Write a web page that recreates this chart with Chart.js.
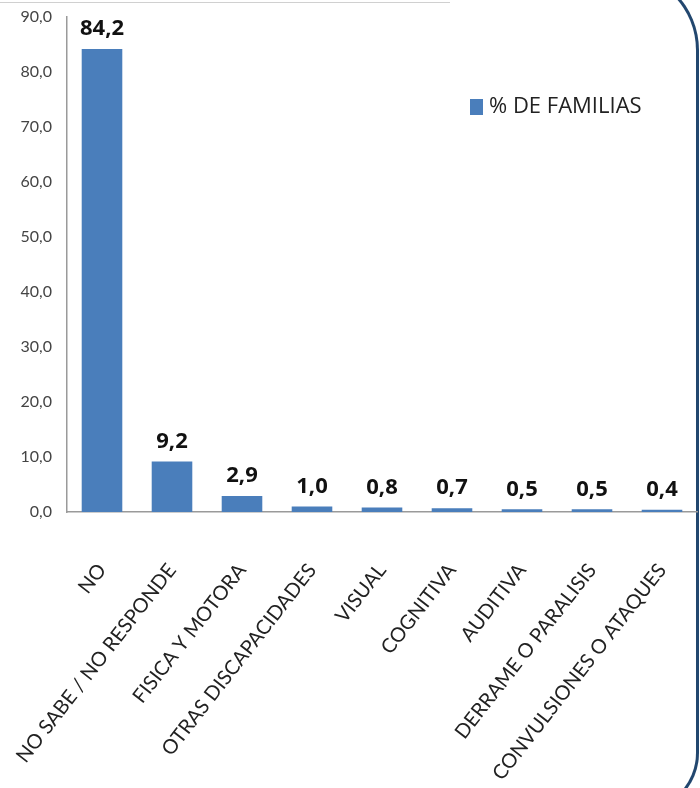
<!DOCTYPE html>
<html>
<head>
<meta charset="utf-8">
<script src="https://cdn.jsdelivr.net/npm/chart.js@4.4.1/dist/chart.umd.min.js"></script>
<style>
  html, body { margin: 0; padding: 0; background: #fff; }
  #wrap { position: relative; width: 700px; height: 788px; overflow: hidden; }
  #topline { position: absolute; left: 0; top: 2px; width: 450px; height: 1px; background: #d0d0d0; }
  #frame { position: absolute; right: 1px; top: -30px; bottom: -25px; width: 120px;
           border-right: 3px solid #22476f; border-top: 3px solid #22476f; border-bottom: 3px solid #22476f;
           border-top-right-radius: 80px; border-bottom-right-radius: 60px; }
  canvas { position: absolute; left: 0; top: 0; }
</style>
</head>
<body>
<div id="wrap">
  <div id="topline"></div>
  <div id="frame"></div>
  <canvas id="myChart" width="700" height="788"></canvas>
</div>
<script>
// categorias y valores (% de familias)
var categories = ['NO', 'NO SABE / NO RESPONDE', 'FISICA Y MOTORA', 'OTRAS DISCAPACIDADES',
  'VISUAL', 'COGNITIVA', 'AUDITIVA', 'DERRAME O PARALISIS', 'CONVULSIONES O ATAQUES'];
var values = [84.2, 9.2, 2.9, 1.0, 0.8, 0.7, 0.5, 0.5, 0.4];
var seriesName = '% DE FAMILIAS';
var yTicks = [0, 10, 20, 30, 40, 50, 60, 70, 80, 90];

function fmt(v) {
  return v.toFixed(1).replace('.', ',');
}

// etiquetas encima de las barras
var valueLabels = {
  id: 'valueLabels',
  afterDatasetsDraw: function(chart) {
    var ctx = chart.ctx;
    var meta = chart.getDatasetMeta(0);
    ctx.save();
    ctx.font = 'bold 22px "Open Sans"';
    ctx.fillStyle = '#111';
    ctx.textAlign = 'center';
    ctx.textBaseline = 'bottom';
    meta.data.forEach(function(bar, i) {
      ctx.fillText(fmt(values[i]), bar.x, bar.y - 9);
    });
    ctx.restore();
  }
};

// leyenda dentro del area del grafico
var innerLegend = {
  id: 'innerLegend',
  afterDraw: function(chart) {
    var ctx = chart.ctx;
    ctx.save();
    ctx.fillStyle = '#4A7EBB';
    ctx.fillRect(470, 99, 13, 16);
    ctx.font = '22px "Open Sans"';
    ctx.fillStyle = '#222';
    ctx.textBaseline = 'middle';
    ctx.fillText(seriesName, 489, 107);
    ctx.restore();
  }
};

const ctx = document.getElementById('myChart');
const myChart = new Chart(ctx, {
  type: 'bar',
  data: {
    labels: categories,
    datasets: [{
      label: seriesName,
      data: values,
      backgroundColor: '#4A7EBB',
      borderWidth: 0,
      barPercentage: 0.58,
      categoryPercentage: 1.0
    }]
  },
  options: {
    responsive: false,
    animation: false,
    layout: { padding: { top: 17, right: 3, left: 0, bottom: 0 } },
    plugins: {
      legend: { display: false },
      tooltip: { enabled: false }
    },
    scales: {
      x: {
        grid: { display: false, drawTicks: false },
        border: { display: true, color: '#9a9a9a', width: 1.5 },
        ticks: {
          minRotation: 52, maxRotation: 52, padding: 47,
          color: '#222',
          font: { family: 'Lato', size: 20 }
        },
        afterFit: function(scale) {
          scale.height = 276;
          scale.paddingLeft = 0;
          scale.paddingRight = 0;
        }
      },
      y: {
        min: 0, max: 90,
        grid: { display: false, drawTicks: false },
        border: { display: true, color: '#9a9a9a', width: 1.5 },
        afterBuildTicks: function(scale) {
          scale.ticks = yTicks.map(function(v) { return { value: v }; });
        },
        ticks: {
          padding: 15,
          color: '#444',
          font: { family: 'Lato', size: 16 },
          callback: function(v) { return fmt(v); }
        },
        afterFit: function(scale) {
          scale.width = 67;
          scale.paddingTop = 0;
          scale.paddingBottom = 0;
        }
      }
    }
  },
  plugins: [valueLabels, innerLegend]
});
</script>
</body>
</html>
